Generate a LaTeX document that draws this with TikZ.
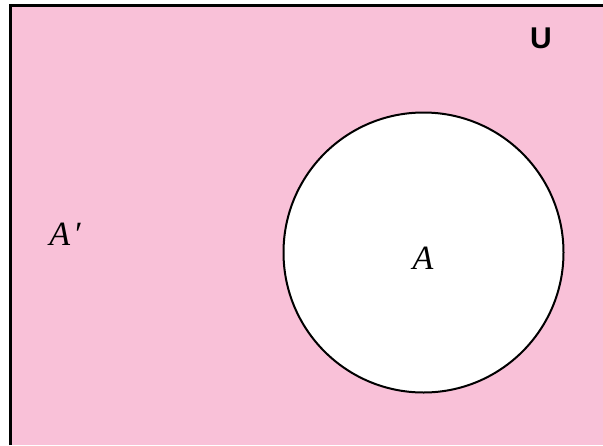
\documentclass[tikz,border=0pt]{standalone}
\usepackage{fontspec}
\setmainfont{Liberation Serif}
\newfontfamily\labsans{Liberation Sans}
\definecolor{vennpink}{RGB}{249,193,216}
\begin{document}
\begin{tikzpicture}[x=1pt,y=-1pt,
  setlabel/.style={font=\fontsize{34}{38}\selectfont\itshape, inner sep=0pt},
  universe/.style={font=\labsans\bfseries\fontsize{30}{34}\selectfont, inner sep=0pt}]
\useasboundingbox (0,0) rectangle (603,445);
\fill[white] (0,0) rectangle (603,445);
\fill[vennpink] (10,5.5) rectangle (603,445);
\draw[line width=3pt] (10,445) -- (10,5.5) -- (603,5.5);
\node[circle, draw, line width=2pt, fill=white, minimum size=280pt, inner sep=0pt] (A) at (423.5,252.5) {};
\node[setlabel] (lblA) at (423,258) {A};
\node[setlabel] (lblAc) at (65,234) {A\kern3pt\symbol{"2032}};
\node[universe] (U) at (541,38) {U};
\end{tikzpicture}
\end{document}
